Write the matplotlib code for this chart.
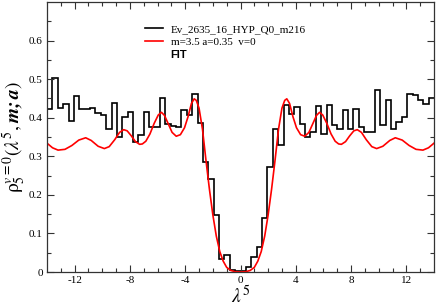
import numpy as np
import matplotlib
matplotlib.use('Agg')
import matplotlib.pyplot as plt
from matplotlib.lines import Line2D

plt.rcParams['font.family'] = ['Liberation Serif', 'DejaVu Serif']
plt.rcParams['mathtext.fontset'] = 'stix'

# ---- data ----
hist_range = [-14.0, 14.0]
hist_nbins = 72
hist_vals = [0.422, 0.502, 0.426, 0.436, 0.392, 0.456, 0.422, 0.422, 0.424, 0.413,
             0.407, 0.372, 0.438, 0.350, 0.402, 0.415, 0.336, 0.356, 0.415, 0.376,
             0.376, 0.452, 0.383, 0.378, 0.376, 0.419, 0.406, 0.461, 0.387, 0.284,
             0.240, 0.149, 0.035, 0.044, 0.005, 0.002, 0.002, 0.014, 0.038, 0.065,
             0.140, 0.271, 0.370, 0.330, 0.432, 0.410, 0.427, 0.383, 0.350, 0.364,
             0.430, 0.357, 0.432, 0.382, 0.371, 0.419, 0.371, 0.422, 0.377, 0.363,
             0.363, 0.472, 0.380, 0.445, 0.370, 0.388, 0.401, 0.462, 0.458, 0.447,
             0.436, 0.451]

fit_x = [-14.0, -13.6, -13.2, -12.7, -12.2, -11.7, -11.2, -10.8, -10.3, -9.85,
         -9.5, -9.1, -8.75, -8.45, -8.2, -7.9, -7.6, -7.3, -7.1, -6.85,
         -6.55, -6.25, -5.95, -5.72, -5.5, -5.25, -4.95, -4.65, -4.35, -4.05,
         -3.8, -3.55, -3.35, -3.2, -3.0, -2.75, -2.5, -2.25, -2.0, -1.75,
         -1.5, -1.25, -1.0, -0.7, -0.4, 0.0,
         0.4, 0.7, 1.0, 1.25, 1.5, 1.75, 2.0, 2.25, 2.5, 2.75,
         3.0, 3.2, 3.35, 3.55, 3.8, 4.05, 4.35, 4.65, 4.95, 5.25,
         5.5, 5.72, 5.95, 6.25, 6.55, 6.85, 7.1, 7.3, 7.6, 7.9,
         8.2, 8.45, 8.75, 9.1, 9.5, 9.85, 10.3, 10.8, 11.2, 11.7,
         12.2, 12.7, 13.2, 13.6, 14.0]
fit_y = [0.334, 0.322, 0.316, 0.318, 0.328, 0.342, 0.348, 0.341, 0.326, 0.320,
         0.325, 0.343, 0.362, 0.369, 0.366, 0.353, 0.338, 0.331, 0.332, 0.339,
         0.358, 0.385, 0.407, 0.414, 0.406, 0.386, 0.362, 0.352, 0.356, 0.374,
         0.402, 0.437, 0.449, 0.445, 0.425, 0.370, 0.290, 0.215, 0.148, 0.093,
         0.053, 0.028, 0.012, 0.004, 0.001, 0.000,
         0.001, 0.004, 0.012, 0.028, 0.053, 0.093, 0.148, 0.215, 0.290, 0.370,
         0.425, 0.445, 0.449, 0.437, 0.402, 0.374, 0.356, 0.352, 0.362, 0.386,
         0.406, 0.414, 0.407, 0.385, 0.358, 0.339, 0.332, 0.331, 0.338, 0.353,
         0.366, 0.369, 0.362, 0.343, 0.325, 0.320, 0.326, 0.341, 0.348, 0.342,
         0.328, 0.318, 0.316, 0.322, 0.334]

x_ticks = [-12, -8, -4, 0, 4, 8, 12]
x_tick_labels = ['-12', '-8', '-4', '0', '4', '8', '12']
y_ticks = [0, 0.1, 0.2, 0.3, 0.4, 0.5, 0.6]
y_tick_labels = ['0', '0.1', '0.2', '0.3', '0.4', '0.5', '0.6']

hist_label = 'Ev_2635_16_HYP_Q0_m216'
fit_label = 'm=3.5 a=0.35  v=0'
extra_label = 'FIT'

# ---- figure ----
W, H = 436, 307
fig = plt.figure(figsize=(W / 100, H / 100), dpi=100)
ax = fig.add_axes([47 / W, (H - 272) / H, (434 - 47) / W, (272 - 2) / H])

edges = np.linspace(hist_range[0], hist_range[1], hist_nbins + 1)
ax.stairs(hist_vals, edges, color='black', lw=1.2, baseline=None)
ax.plot(fit_x, fit_y, color='#ff0000', lw=1.2)

ax.set_xlim(-14, 14)
ax.set_ylim(0, 0.7)
ax.set_xticks(x_ticks)
ax.set_xticklabels(x_tick_labels)
ax.set_yticks(y_ticks)
ax.set_yticklabels(y_tick_labels)
ax.set_xticks(np.arange(-13, 14, 1), minor=True)
ax.set_yticks(np.arange(0.05, 0.7, 0.1), minor=True)
ax.tick_params(which='both', direction='in', top=True, right=True,
               labelsize=8, pad=3, color='#333333')
ax.tick_params(which='major', length=5, width=0.8)
ax.tick_params(which='minor', length=3, width=0.8)
for s in ax.spines.values():
    s.set_linewidth(0.9)
    s.set_color('#333333')

ax.set_xlabel(r'$\lambda^5$', fontsize=14, labelpad=0)
ax.set_ylabel(r'$\mathrm{\rho}_5^{v=0}(\lambda^5, \mathbfit{m;a})$', fontsize=14, labelpad=1)

handles = [Line2D([], [], color='black', lw=1.2),
           Line2D([], [], color='#ff0000', lw=1.2),
           Line2D([], [], color='none', lw=0)]
leg = ax.legend(handles, [hist_label, fit_label, extra_label],
                loc='upper left', bbox_to_anchor=((145 - 47) / (434 - 47), 1 - 22 / 270),
                frameon=False, fontsize=8, handlelength=1.6, handletextpad=0.7,
                labelspacing=0.28, borderpad=0, borderaxespad=0)
t = leg.get_texts()[2]
t.set_fontweight('bold')
t.set_family('Liberation Sans')

fig.savefig('out.png', dpi=100)
